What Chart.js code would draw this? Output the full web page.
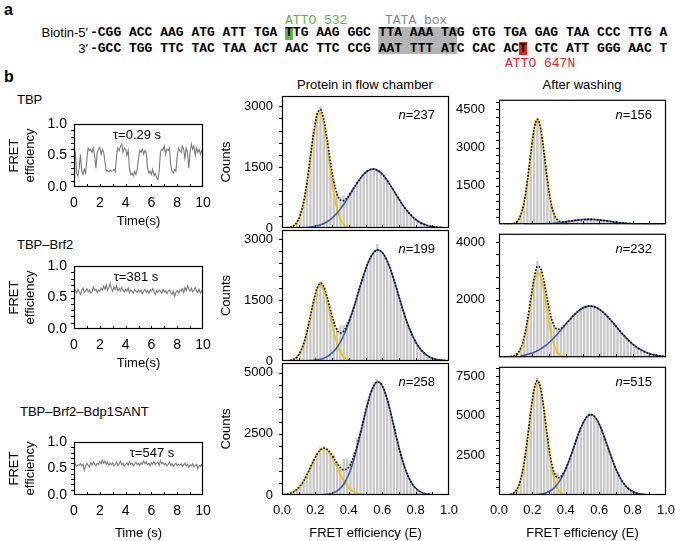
<!DOCTYPE html>
<html><head><meta charset="utf-8">
<script src="https://cdn.jsdelivr.net/npm/chart.js"></script>
<style>
html,body{margin:0;padding:0;background:#fff;}
#fig{position:relative;width:675px;height:541px;overflow:hidden;background:#fff;font-family:"Liberation Sans",Arial,Helvetica,sans-serif;font-size:13px;color:#000;}
#fig canvas{position:absolute;}
.t{position:absolute;white-space:nowrap;line-height:14px;}
.c{transform:translate(-50%,-50%);}
.seq{font-family:"Liberation Mono","Courier New",monospace;font-weight:bold;font-size:13px;line-height:14px;}
.mono{font-family:"Liberation Mono","Courier New",monospace;font-size:13px;line-height:14px;}
.box{position:absolute;}
</style></head><body>
<div id="fig">
  <div class="box" style="left:378px;top:27px;width:79px;height:27px;background:#b4b4b4"></div>
  <div class="box" style="left:285px;top:27px;width:8px;height:13px;background:#62b446"></div>
  <div class="box" style="left:519px;top:42px;width:8px;height:13px;background:#e8231f"></div>
  <div class="t" style="left:4px;top:2px;font-weight:bold;font-size:16px;line-height:16px">a</div>
  <div class="t" style="left:4px;top:69px;font-weight:bold;font-size:16px;line-height:16px">b</div>
  <div class="t mono" style="left:285px;top:14px;color:#5fb43c">ATTO 532</div>
  <div class="t mono" style="left:385px;top:14px;color:#858585">TATA box</div>
  <div class="t mono" style="left:505px;top:57px;color:#e3262b">ATTO 647N</div>
  <div class="t" style="right:587px;top:26px">Biotin-5′</div>
  <div class="t" style="right:587px;top:42px">3′</div>
  <div class="t seq" style="left:90px;top:26px">-CGG ACC AAG ATG ATT TGA TTG AAG GGC TTA AAA TAG GTG TGA GAG TAA CCC TTG A</div>
  <div class="t seq" style="left:90px;top:42px">-GCC TGG TTC TAC TAA ACT AAC TTC CCG AAT TTT ATC CAC ACT CTC ATT GGG AAC T</div>
  <div class="t" style="left:17px;top:93px">TBP</div>
  <div class="t" style="left:17px;top:238px">TBP–Brf2</div>
  <div class="t" style="left:20px;top:405px">TBP–Brf2–Bdp1SANT</div>
  <div class="t c" style="left:365px;top:85px">Protein in flow chamber</div>
  <div class="t c" style="left:582px;top:85px">After washing</div>
</div>
<script>
const N = null;
// histogram bin centres (FRET efficiency)
const E_BINS = [0.01,0.03,0.05,0.07,0.09,0.11,0.13,0.15,0.17,0.19,0.21,0.23,0.25,0.27,0.29,0.31,0.33,0.35,0.37,0.39,0.41,0.43,0.45,0.47,0.49,0.51,0.53,0.55,0.57,0.59,0.61,0.63,0.65,0.67,0.69,0.71,0.73,0.75,0.77,0.79,0.81,0.83,0.85,0.87,0.89,0.91,0.93,0.95,0.97,0.99];
const X_TICKS = [0,0.2,0.4,0.6,0.8,1.0];
const X_MINOR = [0.1,0.2,0.3,0.4,0.5,0.6,0.7,0.8,0.9];

// TBP, protein in flow chamber
const M1_BARS = [0,5,20,60,150,330,640,1150,1780,2400,2830,3000,2640,2150,1600,1180,880,760,800,760,880,1000,1120,1230,1300,1390,1470,1460,1420,1380,1290,1180,1040,900,770,650,530,420,330,250,180,130,95,60,40,30,15,10,5,3];
const M1_YEL = [N,6,18,54,142,322,641,1123,1730,2328,2744,2839,2571,2040,1416,864,462,216,88,31,10,3,N,N,N,N,N,N,N,N,N,N,N,N,N,N,N,N,N,N,N,N,N,N,N,N,N,N,N,N];
const M1_BLU = [0,1,1,2,3,5,9,14,23,35,52,77,110,155,212,283,370,471,586,712,845,980,1111,1228,1325,1399,1440,1449,1424,1366,1279,1170,1045,913,779,648,526,418,325,245,181,131,93,64,43,28,18,11,7,4];
const M1_SUM = [1,7,19,56,145,327,650,1137,1753,2363,2796,2916,2681,2195,1628,1147,832,687,674,743,855,983,1112,1228,1325,1399,1440,1449,1424,1366,1279,1170,1045,913,779,648,526,418,325,245,181,131,93,64,43,28,18,11,7,4];
// TBP, after washing
const R1_BARS = [0,0,2,8,30,120,350,850,1700,2750,3700,4150,3700,2780,1700,880,400,190,110,100,110,125,140,160,175,185,190,188,185,175,160,140,125,105,90,70,55,40,30,22,15,10,7,4,3,2,1,1,0,0];
const R1_YEL = [N,N,1,7,32,117,347,845,1687,2762,3714,4100,3714,2762,1687,845,347,117,32,7,1,N,N,N,N,N,N,N,N,N,N,N,N,N,N,N,N,N,N,N,N,N,N,N,N,N,N,N,N,N];
const R1_BLU = [N,N,N,N,N,N,N,1,2,3,4,7,10,15,22,30,41,54,70,87,106,125,143,160,174,184,189,189,184,174,160,143,125,106,87,70,54,41,30,22,15,10,7,4,3,2,1,1,0,0];
const R1_SUM = [0,0,1,7,32,117,347,846,1689,2765,3718,4107,3724,2777,1709,875,388,171,102,94,107,125,143,160,174,184,189,189,184,174,160,143,125,106,87,70,54,41,30,22,15,10,7,4,3,2,1,1,0,0];
// TBP-Brf2, protein in flow chamber
const M2_BARS = [0,5,15,40,100,220,430,740,1120,1500,1800,1950,1820,1560,1250,980,820,870,880,960,1130,1350,1600,1870,2130,2350,2550,2660,2870,2700,2620,2450,2250,2000,1720,1460,1190,940,730,560,400,290,200,130,90,55,35,20,12,6];
const M2_YEL = [1,5,15,41,101,221,423,722,1096,1474,1762,1870,1762,1474,1096,722,423,221,101,41,15,5,1,N,N,N,N,N,N,N,N,N,N,N,N,N,N,N,N,N,N,N,N,N,N,N,N,N,N,N];
const M2_BLU = [N,N,N,N,N,1,3,5,9,16,27,44,70,108,162,238,339,470,634,832,1062,1316,1586,1862,2124,2359,2544,2673,2727,2708,2615,2457,2247,1996,1725,1450,1185,942,729,549,401,287,198,133,87,55,34,21,12,7];
const M2_SUM = [1,5,15,41,101,222,426,727,1105,1490,1789,1914,1832,1582,1258,960,762,691,735,873,1077,1321,1587,1862,2124,2359,2544,2673,2727,2708,2615,2457,2247,1996,1725,1450,1185,942,729,549,401,287,198,133,87,55,34,21,12,7];
// TBP-Brf2, after washing
const R2_BARS = [0,5,12,25,55,130,320,690,1290,2050,2780,3350,3080,2600,1980,1440,1110,990,1010,1100,1230,1370,1490,1610,1720,1800,1830,1810,1800,1720,1640,1520,1400,1280,1140,1000,860,740,620,500,400,320,250,190,140,100,75,50,35,25];
const R2_YEL = [N,N,2,8,31,99,270,614,1180,1900,2575,2935,2808,2263,1531,870,416,167,57,16,4,N,N,N,N,N,N,N,N,N,N,N,N,N,N,N,N,N,N,N,N,N,N,N,N,N,N,N,N,N];
const R2_BLU = [N,N,N,N,N,N,49,69,95,129,173,226,291,368,459,563,680,807,940,1080,1218,1351,1475,1583,1672,1735,1772,1779,1757,1707,1631,1531,1415,1285,1150,1009,872,742,621,511,413,328,256,198,150,111,81,59,41,29];
const R2_SUM = [5,7,13,24,55,134,319,683,1275,2029,2748,3161,3099,2631,1990,1433,1096,974,997,1096,1222,1352,1475,1583,1672,1735,1772,1779,1757,1707,1631,1531,1415,1285,1150,1009,872,742,621,511,413,328,256,198,150,111,81,59,41,29];
// TBP-Brf2-Bdp1SANT, protein in flow chamber
const M3_BARS = [10,30,70,140,240,390,600,850,1150,1450,1700,1950,2000,1900,1700,1650,1400,1250,1480,1500,1420,1750,2350,2600,3150,3700,4150,4500,4750,4600,4300,3900,3400,2850,2250,1700,1250,880,600,380,240,140,80,40,20,10,5,2,1,0];
const M3_YEL = [17,36,71,132,232,380,581,836,1123,1414,1666,1839,1900,1839,1666,1414,1123,836,581,380,232,132,71,36,17,7,3,N,N,N,N,N,N,N,N,N,N,N,N,N,N,N,N,N,N,N,N,N,N,N];
const M3_BLU = [N,N,N,N,N,N,N,N,N,1,3,6,13,27,51,95,166,281,451,695,1023,1445,1949,2514,3102,3662,4139,4473,4624,4574,4324,3917,3389,2810,2222,1685,1222,847,565,358,217,126,70,38,19,9,4,2,1,0];
const M3_SUM = [17,36,71,132,232,380,581,836,1123,1415,1669,1845,1913,1866,1717,1509,1289,1117,1032,1075,1255,1577,2020,2550,3119,3669,4142,4474,4624,4574,4324,3917,3389,2810,2222,1685,1222,847,565,358,217,126,70,38,19,9,4,2,1,0];
// TBP-Brf2-Bdp1SANT, after washing
const R3_BARS = [0,3,12,45,150,410,980,2000,3500,5250,6700,7400,6650,5300,3700,2300,1500,1400,1250,1480,1930,2480,3090,3700,4250,4700,5000,5100,4950,4700,4250,3700,3080,2480,1900,1420,1000,690,450,290,170,100,55,30,15,8,4,2,1,0];
const R3_YEL = [N,2,11,43,143,404,974,2000,3506,5227,6646,7200,6646,5227,3506,2000,974,404,143,43,11,2,N,N,N,N,N,N,N,N,N,N,N,N,N,N,N,N,N,N,N,N,N,N,N,N,N,N,N,N];
const R3_BLU = [N,N,N,N,N,N,1,2,4,8,16,30,56,101,173,285,452,687,1006,1412,1905,2474,3081,3688,4242,4689,4978,5080,4978,4689,4242,3688,3081,2474,1905,1412,1006,687,452,285,173,101,56,30,16,8,4,2,1,0];
const R3_SUM = [0,2,11,43,143,404,975,2002,3510,5235,6662,7230,6702,5328,3679,2285,1426,1091,1149,1455,1916,2476,3081,3688,4242,4689,4978,5080,4978,4689,4242,3688,3081,2474,1905,1412,1006,687,452,285,173,101,56,30,16,8,4,2,1,0];

// single-molecule FRET traces
const TIME = [0,0.1,0.2,0.3,0.4,0.5,0.6,0.7,0.8,0.9,1,1.1,1.2,1.3,1.4,1.5,1.6,1.7,1.8,1.9,2,2.1,2.2,2.3,2.4,2.5,2.6,2.7,2.8,2.9,3,3.1,3.2,3.3,3.4,3.5,3.6,3.7,3.8,3.9,4,4.1,4.2,4.3,4.4,4.5,4.6,4.7,4.8,4.9,5,5.1,5.2,5.3,5.4,5.5,5.6,5.7,5.8,5.9,6,6.1,6.2,6.3,6.4,6.5,6.6,6.7,6.8,6.9,7,7.1,7.2,7.3,7.4,7.5,7.6,7.7,7.8,7.9,8,8.1,8.2,8.3,8.4,8.5,8.6,8.7,8.8,8.9,9,9.1,9.2,9.3,9.4,9.5,9.6,9.7,9.8,9.9,10];
const TRACE_TBP = [0.60,0.55,0.22,0.18,0.30,0.52,0.25,0.20,0.28,0.22,0.45,0.62,0.58,0.60,0.55,0.62,0.50,0.30,0.55,0.60,0.63,0.52,0.60,0.55,0.40,0.25,0.26,0.24,0.27,0.25,0.26,0.28,0.24,0.50,0.62,0.58,0.64,0.68,0.55,0.62,0.60,0.50,0.58,0.30,0.20,0.22,0.18,0.25,0.20,0.28,0.45,0.58,0.55,0.60,0.52,0.58,0.55,0.30,0.22,0.25,0.20,0.28,0.18,0.22,0.15,0.12,0.25,0.55,0.60,0.58,0.65,0.52,0.60,0.58,0.62,0.35,0.25,0.22,0.28,0.25,0.50,0.62,0.58,0.55,0.65,0.60,0.45,0.62,0.55,0.30,0.55,0.68,0.60,0.65,0.50,0.62,0.55,0.60,0.52,0.58,0.55];
const TRACE_BRF2 = [0.60,0.62,0.57,0.63,0.60,0.55,0.62,0.65,0.58,0.61,0.64,0.59,0.62,0.57,0.60,0.66,0.61,0.63,0.58,0.62,0.60,0.65,0.62,0.68,0.63,0.70,0.62,0.66,0.72,0.64,0.60,0.67,0.63,0.69,0.61,0.64,0.60,0.66,0.62,0.59,0.63,0.60,0.65,0.58,0.62,0.60,0.57,0.63,0.60,0.58,0.62,0.59,0.61,0.56,0.60,0.63,0.58,0.61,0.57,0.62,0.60,0.64,0.59,0.55,0.61,0.58,0.62,0.60,0.57,0.63,0.59,0.61,0.56,0.60,0.62,0.58,0.55,0.60,0.52,0.58,0.61,0.57,0.62,0.60,0.64,0.58,0.66,0.61,0.68,0.63,0.60,0.65,0.59,0.62,0.66,0.60,0.58,0.63,0.57,0.60,0.58];
const TRACE_BDP1 = [0.55,0.58,0.54,0.57,0.56,0.59,0.55,0.58,0.47,0.55,0.60,0.56,0.53,0.61,0.57,0.62,0.58,0.55,0.60,0.57,0.63,0.59,0.66,0.60,0.64,0.58,0.62,0.56,0.60,0.57,0.61,0.55,0.58,0.62,0.56,0.59,0.64,0.57,0.60,0.54,0.58,0.61,0.56,0.63,0.58,0.60,0.55,0.59,0.62,0.57,0.60,0.56,0.61,0.58,0.64,0.59,0.62,0.57,0.60,0.55,0.61,0.58,0.63,0.57,0.60,0.62,0.56,0.65,0.59,0.61,0.57,0.60,0.55,0.58,0.62,0.56,0.59,0.54,0.58,0.60,0.55,0.58,0.56,0.59,0.54,0.57,0.60,0.55,0.58,0.52,0.57,0.55,0.59,0.53,0.56,0.58,0.50,0.56,0.54,0.57,0.55];
const T_TICKS = [0,2,4,6,8,10];
const T_MINOR = [1,2,3,4,5,6,7,8,9];
const F_TICKS = [0,0.5,1];
const F_MINOR = [0.1,0.2,0.3,0.4,0.5,0.6,0.7,0.8,0.9];

Chart.defaults.font.family = '"Liberation Sans", Arial, Helvetica, sans-serif';
Chart.defaults.font.size = 13;
Chart.defaults.color = '#000';

const YEL = '#f2c200', BLU = '#3d5cae', BAR = '#c8c8c8';
const PAD = 18;
const fig = document.getElementById('fig');

function framePlugin(yMinor, xMinor) {
  return {
    id: 'frame',
    afterDatasetsDraw(chart) {
      const {ctx, chartArea: a, scales} = chart;
      const x = scales.x, y = scales.y;
      ctx.save();
      ctx.strokeStyle = '#000';
      ctx.lineWidth = 1;
      ctx.beginPath();
      yMinor.forEach(v => { const p = Math.round(y.getPixelForValue(v)) + 0.5; ctx.moveTo(a.left, p); ctx.lineTo(a.left - 3, p); });
      xMinor.forEach(v => { const p = Math.round(x.getPixelForValue(v)) + 0.5; ctx.moveTo(p, a.bottom); ctx.lineTo(p, a.bottom - 3); });
      ctx.stroke();
      ctx.lineWidth = 1.2;
      ctx.strokeRect(a.left + 0.5, a.top + 0.5, a.right - a.left - 1, a.bottom - a.top - 1);
      ctx.restore();
    }
  };
}

function makeCanvas(area, wy, hx) {
  const c = document.createElement('canvas');
  const w = area.r - area.l + wy + PAD, h = area.b - area.t + PAD + hx;
  c.width = w; c.height = h;
  c.style.left = (area.l - wy) + 'px';
  c.style.top = (area.t - PAD) + 'px';
  c.style.width = w + 'px'; c.style.height = h + 'px';
  fig.appendChild(c);
  return c;
}

function label(html, x, y, align) {
  const d = document.createElement('div');
  d.className = 't';
  d.innerHTML = html;
  d.style.top = (y - 7) + 'px';
  if (align === 'right') { d.style.right = (675 - x) + 'px'; }
  else { d.style.left = x + 'px'; d.style.transform = 'translateX(-50%)'; }
  fig.appendChild(d);
}

function histogram(p) {
  const c = makeCanvas(p.area, p.wy, p.hx);
  const pts = arr => E_BINS.map((e, i) => ({x: e, y: arr[i]}));
  new Chart(c, {
    type: 'bar',
    data: {datasets: [
      {type: 'line', data: pts(p.sum), borderColor: '#000', borderWidth: 1.6, borderDash: [1.6, 1.6], pointRadius: 0, cubicInterpolationMode: 'monotone', order: 1},
      {type: 'line', data: pts(p.blu), borderColor: BLU, borderWidth: 1.6, pointRadius: 0, cubicInterpolationMode: 'monotone', order: 2},
      {type: 'line', data: pts(p.yel), borderColor: YEL, borderWidth: 1.7, pointRadius: 0, cubicInterpolationMode: 'monotone', order: 3},
      {type: 'bar', data: pts(p.bars), backgroundColor: BAR, barPercentage: 0.72, categoryPercentage: 1, order: 4}
    ]},
    options: {
      responsive: false, animation: false, devicePixelRatio: 1,
      layout: {padding: {top: PAD, right: PAD, left: 0, bottom: 0}},
      plugins: {legend: {display: false}, tooltip: {enabled: false}},
      scales: {
        x: {type: 'linear', min: 0, max: 1, offset: false,
            grid: {display: false, drawTicks: false}, border: {display: false},
            afterBuildTicks: s => { s.ticks = X_TICKS.map(v => ({value: v})); },
            afterFit: s => { s.height = p.hx; },
            ticks: {display: p.showX, padding: 8, autoSkip: false, maxRotation: 0, callback: v => v.toFixed(1)},
            title: {display: p.showX, text: 'FRET efficiency (E)', padding: {top: 0, bottom: 0}}},
        y: {type: 'linear', min: 0, max: p.yMax,
            grid: {display: false, drawTicks: false}, border: {display: false},
            afterBuildTicks: s => { s.ticks = p.yTicks.map(v => ({value: v})); },
            afterFit: s => { s.width = p.wy; },
            ticks: {padding: p.ypad, autoSkip: false, callback: v => String(v)},
            title: {display: p.counts, text: 'Counts', padding: {top: 4, bottom: 0}}}
      }
    },
    plugins: [framePlugin(p.yMinor, X_MINOR)]
  });
  label('<i>n</i>=' + p.n, p.area.r - 14, p.area.t + 19, 'right');
}

function trace(p) {
  const c = makeCanvas(p.area, 71, p.hx);
  new Chart(c, {
    type: 'line',
    data: {datasets: [{data: TIME.map((t, i) => ({x: t, y: p.y[i]})), borderColor: '#7a7a7a', borderWidth: 1.1, pointRadius: 0, tension: 0}]},
    options: {
      responsive: false, animation: false, devicePixelRatio: 1,
      layout: {padding: {top: PAD, right: PAD, left: 0, bottom: 0}},
      plugins: {legend: {display: false}, tooltip: {enabled: false}},
      scales: {
        x: {type: 'linear', min: 0, max: 10,
            grid: {display: false, drawTicks: false}, border: {display: false},
            afterBuildTicks: s => { s.ticks = T_TICKS.map(v => ({value: v})); },
            afterFit: s => { s.height = p.hx; },
            ticks: {padding: 8, autoSkip: false, maxRotation: 0, font: {size: 14}, callback: v => String(v)},
            title: {display: true, text: p.xTitle, padding: {top: 0, bottom: 0}}},
        y: {type: 'linear', min: 0, max: 1,
            grid: {display: false, drawTicks: false}, border: {display: false},
            afterBuildTicks: s => { s.ticks = F_TICKS.map(v => ({value: v})); },
            afterFit: s => { s.width = 71; },
            ticks: {padding: 7, autoSkip: false, font: {size: 14}, callback: v => v.toFixed(1)},
            title: {display: true, text: ['FRET', 'efficiency'], padding: {top: 4, bottom: 0}}}
      }
    },
    plugins: [framePlugin(F_MINOR, T_MINOR)]
  });
  label('τ=' + p.tau + ' s', p.tauX, p.area.t + 11);
}

trace({area: {l: 74, r: 203, t: 124, b: 187}, hx: 42, y: TRACE_TBP, xTitle: 'Time(s)', tau: '0.29', tauX: 137});
trace({area: {l: 74, r: 203, t: 266, b: 329}, hx: 42, y: TRACE_BRF2, xTitle: 'Time(s)', tau: '381', tauX: 136});
trace({area: {l: 74, r: 203, t: 442, b: 495}, hx: 46, y: TRACE_BDP1, xTitle: 'Time (s)', tau: '547', tauX: 152});

const MID = {l: 282, r: 449}, RIG = {l: 499, r: 666};
const ROWS = [{t: 96, b: 228}, {t: 230, b: 361}, {t: 363, b: 495}];

histogram({area: {...MID, ...ROWS[0]}, wy: 67, hx: PAD, ypad: 9, showX: false, counts: true, n: 237, yMax: 3250, yTicks: [0, 1500, 3000], yMinor: [300,600,900,1200,1500,1800,2100,2400,2700,3000], bars: M1_BARS, yel: M1_YEL, blu: M1_BLU, sum: M1_SUM});
histogram({area: {...RIG, ...ROWS[0]}, wy: 50, hx: PAD, ypad: 14, showX: false, counts: false, n: 156, yMax: 4870, yTicks: [1500, 3000, 4500], yMinor: [300,600,900,1200,1500,1800,2100,2400,2700,3000,3300,3600,3900,4200,4500,4800], bars: R1_BARS, yel: R1_YEL, blu: R1_BLU, sum: R1_SUM});
histogram({area: {...MID, ...ROWS[1]}, wy: 67, hx: PAD, ypad: 9, showX: false, counts: true, n: 199, yMax: 3220, yTicks: [0, 1500, 3000], yMinor: [300,600,900,1200,1500,1800,2100,2400,2700,3000], bars: M2_BARS, yel: M2_YEL, blu: M2_BLU, sum: M2_SUM});
histogram({area: {...RIG, ...ROWS[1]}, wy: 50, hx: PAD, ypad: 14, showX: false, counts: false, n: 232, yMax: 4300, yTicks: [2000, 4000], yMinor: [400,800,1200,1600,2000,2400,2800,3200,3600,4000], bars: R2_BARS, yel: R2_YEL, blu: R2_BLU, sum: R2_SUM});
histogram({area: {...MID, ...ROWS[2]}, wy: 67, hx: 46, ypad: 9, showX: true, counts: true, n: 258, yMax: 5400, yTicks: [0, 2500, 5000], yMinor: [500,1000,1500,2000,2500,3000,3500,4000,4500,5000], bars: M3_BARS, yel: M3_YEL, blu: M3_BLU, sum: M3_SUM});
histogram({area: {...RIG, ...ROWS[2]}, wy: 50, hx: 46, ypad: 14, showX: true, counts: false, n: 515, yMax: 8100, yTicks: [2500, 5000, 7500], yMinor: [500,1000,1500,2000,2500,3000,3500,4000,4500,5000,5500,6000,6500,7000,7500,8000], bars: R3_BARS, yel: R3_YEL, blu: R3_BLU, sum: R3_SUM});
</script>
</body></html>
